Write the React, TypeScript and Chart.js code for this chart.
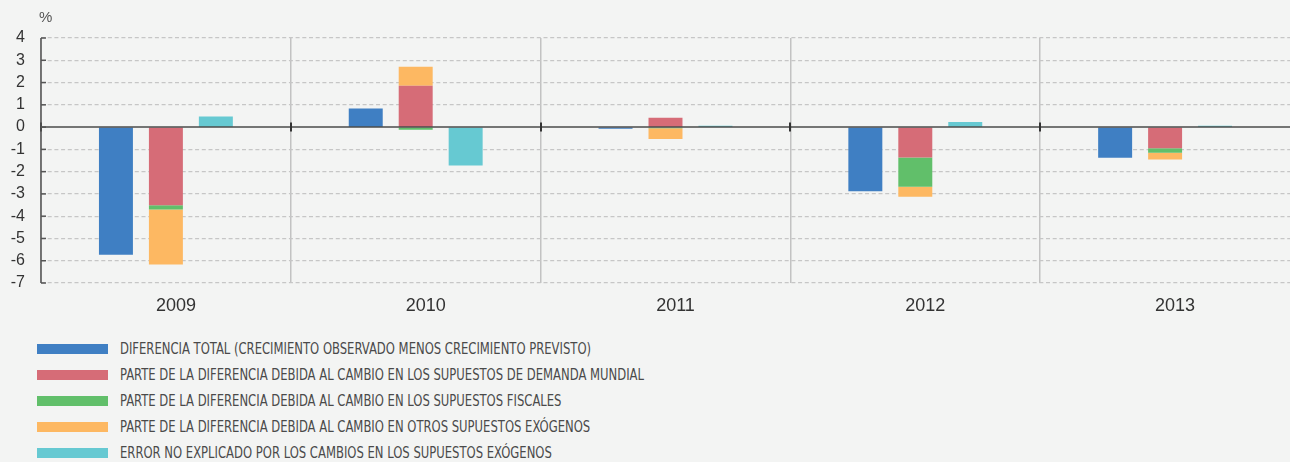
import React, { useEffect, useRef } from "react";
import { Chart, registerables } from "chart.js";

Chart.register(...registerables);

const years = ["2009", "2010", "2011", "2012", "2013"];
const totalDiff = [-5.73, 0.83, -0.08, -2.88, -1.38];
const worldDemand = [-3.51, 1.86, 0.42, -1.36, -0.95];
const fiscal = [-0.19, -0.12, -0.05, -1.32, -0.2];
const otherExog = [-2.47, 0.85, -0.48, -0.45, -0.31];
const unexplained = [0.47, -1.72, 0.06, 0.23, 0.06];
const yMin = -7;
const yMax = 4;
const unitLabel = "%";

const seriesLabels = [
  "DIFERENCIA TOTAL (CRECIMIENTO OBSERVADO MENOS CRECIMIENTO PREVISTO)",
  "PARTE DE LA DIFERENCIA DEBIDA AL CAMBIO EN LOS SUPUESTOS DE DEMANDA MUNDIAL",
  "PARTE DE LA DIFERENCIA DEBIDA AL CAMBIO EN LOS SUPUESTOS FISCALES",
  "PARTE DE LA DIFERENCIA DEBIDA AL CAMBIO EN OTROS SUPUESTOS EXÓGENOS",
  "ERROR NO EXPLICADO POR LOS CAMBIOS EN LOS SUPUESTOS EXÓGENOS",
];
const seriesColors = ["#3f7fc3", "#d66c77", "#61bf6a", "#fdb862", "#66c9d2"];
const seriesStacks = ["total", "parts", "parts", "parts", "error"];
const seriesData = [totalDiff, worldDemand, fiscal, otherExog, unexplained];

const BG = "#f3f4f3";
const W = 1290;
const H = 330;
const legendRowsY = [349, 375, 401, 427, 453];
const FONT = "'Liberation Sans', Arial, sans-serif";

const decorPlugin = {
  id: "decor",
  afterDatasetsDraw(chart: any) {
    const { ctx, chartArea, scales } = chart;
    const y = scales.y;
    const y0 = y.getPixelForValue(0);
    ctx.save();
    // zero line
    ctx.strokeStyle = "rgba(0,0,0,0.52)";
    ctx.lineWidth = 2;
    ctx.beginPath();
    ctx.moveTo(chartArea.left, y0);
    ctx.lineTo(chartArea.right, y0);
    ctx.stroke();
    // ticks at category boundaries on zero line
    const n = years.length;
    const cw = (chartArea.right - chartArea.left) / n;
    ctx.strokeStyle = "#333";
    ctx.lineWidth = 2;
    for (let i = 0; i < n; i++) {
      const px = Math.round(chartArea.left + i * cw);
      ctx.beginPath();
      ctx.moveTo(px, y0 - 4.5);
      ctx.lineTo(px, y0 + 4.5);
      ctx.stroke();
    }
    // y axis line
    ctx.strokeStyle = "#555";
    ctx.lineWidth = 1.5;
    ctx.beginPath();
    ctx.moveTo(chartArea.left, chartArea.top);
    ctx.lineTo(chartArea.left, chartArea.bottom);
    ctx.stroke();
    // inward ticks
    for (const t of y.ticks) {
      const py = y.getPixelForValue(t.value);
      ctx.beginPath();
      ctx.moveTo(chartArea.left, py);
      ctx.lineTo(chartArea.left + 5, py);
      ctx.stroke();
    }
    // unit label
    ctx.fillStyle = "#555";
    ctx.font = "15px " + FONT;
    ctx.textAlign = "left";
    ctx.textBaseline = "middle";
    ctx.fillText(unitLabel, chartArea.left - 2, 18);
    ctx.restore();
  },
};

export default function App() {
  const canvasRef = useRef<HTMLCanvasElement | null>(null);

  useEffect(() => {
    const canvas = canvasRef.current;
    if (!canvas) return;
    const chart = new Chart(canvas, {
      type: "bar",
      data: {
        labels: years,
        datasets: seriesData.map((d, i) => ({
          label: seriesLabels[i],
          data: d,
          backgroundColor: seriesColors[i],
          borderWidth: 0,
          stack: seriesStacks[i],
          categoryPercentage: 0.6,
          barPercentage: 0.68,
        })),
      },
      options: {
        responsive: false,
        animation: false,
        devicePixelRatio: 1,
        layout: { padding: { top: 38, left: 0, right: 0, bottom: 0 } },
        plugins: {
          legend: { display: false },
          tooltip: { enabled: false },
        },
        scales: {
          x: {
            stacked: true,
            grid: {
              offset: true,
              color: (c: any) => (c.tick ? "#c2c2c2" : "rgba(0,0,0,0)"),
              lineWidth: 1.5,
              drawTicks: false,
            },
            border: { display: false },
            ticks: {
              padding: 12,
              labelOffset: 10,
              color: "#333",
              font: { size: 18, family: FONT },
            },
            afterFit: (s: any) => {
              s.height = H - 283;
            },
          },
          y: {
            stacked: true,
            min: yMin,
            max: yMax,
            ticks: {
              stepSize: 1,
              padding: 16,
              color: "#333",
              font: { size: 16, family: FONT },
            },
            grid: {
              color: (c: any) => (c.tick && c.tick.value === 0 ? "rgba(0,0,0,0)" : "#c6c6c6"),
              lineWidth: 1.3,
              drawTicks: false,
            },
            border: { display: false, dash: [4, 2.7] },
            afterFit: (s: any) => {
              s.width = 41;
            },
          },
        },
      },
      plugins: [decorPlugin],
    });
    return () => chart.destroy();
  }, []);

  return (
    <div
      style={{
        position: "fixed",
        left: 0,
        top: 0,
        width: W,
        height: 462,
        background: BG,
        overflow: "hidden",
      }}
    >
      <canvas ref={canvasRef} width={W} height={H} style={{ position: "absolute", left: 0, top: 0 }} />
      {seriesLabels.map((lab, i) => (
        <div
          key={i}
          style={{
            position: "absolute",
            left: 37,
            top: legendRowsY[i] - 10,
            height: 20,
            display: "flex",
            alignItems: "center",
            whiteSpace: "nowrap",
          }}
        >
          <div style={{ width: 71, height: 10, background: seriesColors[i], marginRight: 12, flex: "none" }} />
          <span
            style={{
              display: "inline-block",
              fontFamily: "'Liberation Sans Narrow', 'DejaVu Sans Condensed', 'Roboto Condensed', sans-serif",
              fontStretch: "condensed",
              fontSize: 15,
              color: "#4a4a4a",
              transform: "scaleX(0.86)",
              transformOrigin: "left center",
            }}
          >
            {lab}
          </span>
        </div>
      ))}
    </div>
  );
}
